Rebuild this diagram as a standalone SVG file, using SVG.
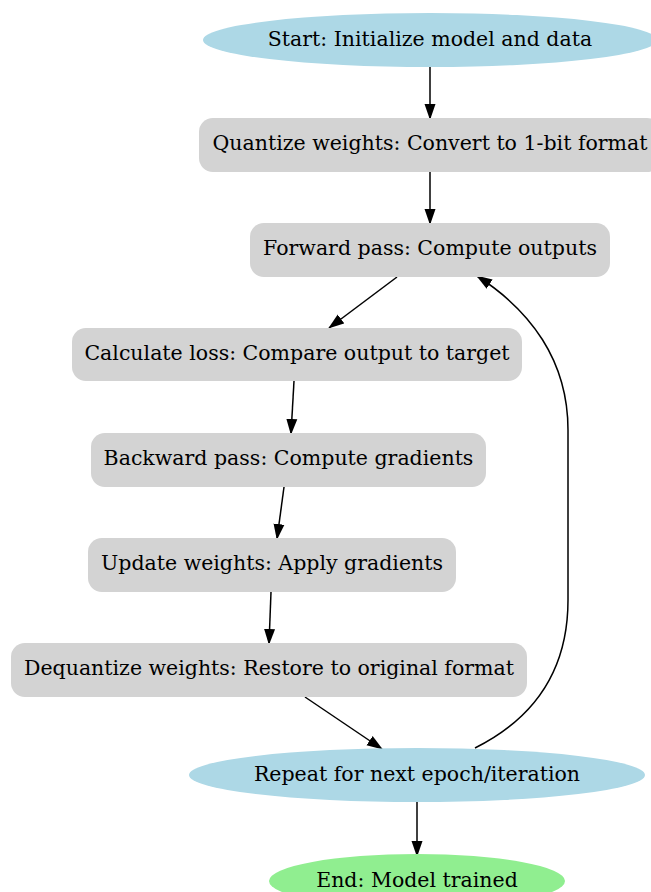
<svg xmlns="http://www.w3.org/2000/svg" width="651" height="892" viewBox="0 0 651 892">
<style>
text{font-family:"DejaVu Serif",serif;font-size:20.5px;fill:#000;text-anchor:middle}
.box{fill:#d3d3d3}
.term{fill:#add8e6}
.end{fill:#90ee90}
.edge{fill:none;stroke:#000;stroke-width:1.5}
</style>
<defs>
<marker id="ah" markerWidth="16" markerHeight="12" refX="15" refY="6" orient="auto" markerUnits="userSpaceOnUse" viewBox="0 0 16 12">
<path d="M0,0.5 L16,6 L0,11.5 Z" fill="#000"/>
</marker>
</defs>
<rect width="651" height="892" fill="#fff"/>
<g id="edges">
<path class="edge" marker-end="url(#ah)" d="M430,67 L430,119"/>
<path class="edge" marker-end="url(#ah)" d="M430,172 L430,224"/>
<path class="edge" marker-end="url(#ah)" d="M397,277 L329,328"/>
<path class="edge" marker-end="url(#ah)" d="M294,381 L291,434"/>
<path class="edge" marker-end="url(#ah)" d="M284,487 L277,539"/>
<path class="edge" marker-end="url(#ah)" d="M271,592 L269,644"/>
<path class="edge" marker-end="url(#ah)" d="M305,697 L382,749"/>
<path class="edge" marker-end="url(#ah)" d="M417,802 L417,856"/>
<path class="edge" marker-end="url(#ah)" d="M475,748 C535,718 568,670 568,600 L568,430 C568,360 530,310 477,276"/>
</g>
<g id="start"><ellipse class="term" cx="430" cy="40" rx="227" ry="27"/><text x="430" y="46">Start: Initialize model and data</text></g>
<g id="quantize"><rect class="box" x="199" y="118" width="462" height="54" rx="14"/><text x="430" y="150">Quantize weights: Convert to 1-bit format</text></g>
<g id="forward"><rect class="box" x="250" y="223" width="360" height="54" rx="14"/><text x="430" y="255">Forward pass: Compute outputs</text></g>
<g id="loss"><rect class="box" x="72" y="328" width="450" height="53" rx="14"/><text x="297" y="360">Calculate loss: Compare output to target</text></g>
<g id="backward"><rect class="box" x="91" y="433" width="395" height="54" rx="14"/><text x="288.5" y="465">Backward pass: Compute gradients</text></g>
<g id="update"><rect class="box" x="88" y="538" width="368" height="54" rx="14"/><text x="272" y="570">Update weights: Apply gradients</text></g>
<g id="dequantize"><rect class="box" x="11" y="643" width="516" height="54" rx="14"/><text x="269" y="675">Dequantize weights: Restore to original format</text></g>
<g id="repeat"><ellipse class="term" cx="417" cy="775" rx="228" ry="27"/><text x="417" y="781">Repeat for next epoch/iteration</text></g>
<g id="endnode"><ellipse class="end" cx="417" cy="881" rx="148" ry="27"/><text x="417" y="887">End: Model trained</text></g>
</svg>
